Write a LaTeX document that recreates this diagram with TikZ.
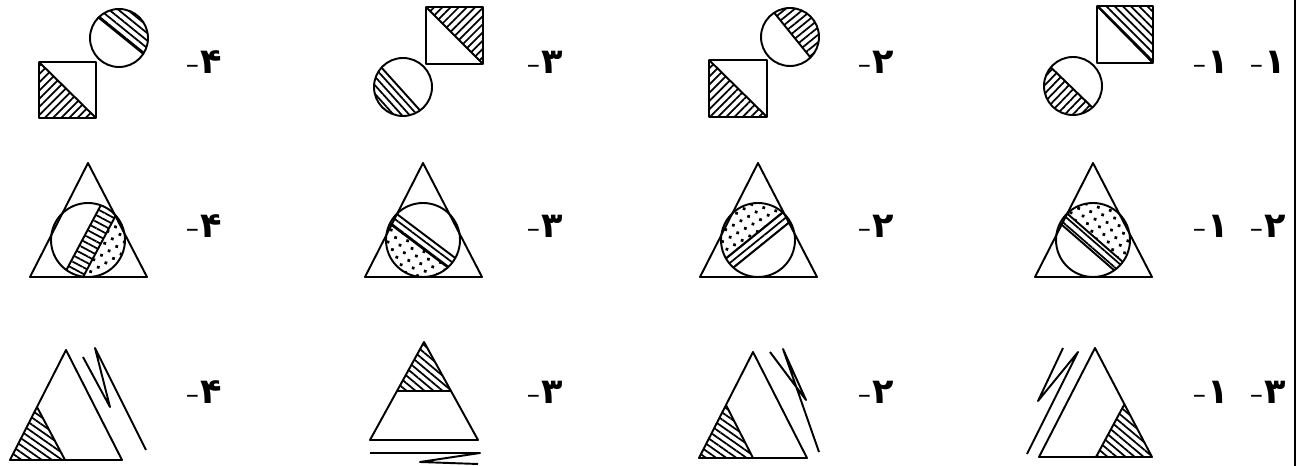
\documentclass[tikz,border=0pt]{standalone}
\usepackage{fontspec}
\newfontfamily\arabicfont[Script=Arabic]{DejaVu Sans}
\newfontfamily\dashfont{DejaVu Sans}
\usetikzlibrary{calc,patterns.meta}
\newcommand{\qnum}[1]{{\dashfont\fontsize{15}{15}\selectfont\textendash}\hspace{1pt}{\arabicfont\bfseries #1}}

\begin{document}
\begin{tikzpicture}[x=0.02cm, y=0.02cm,
  fig/.style={draw, line width=1.1pt, line join=round},
  hatch/.style={pattern={Lines[angle=#1,distance=3.3pt,line width=1pt]}},
  dots/.style={pattern={Dots[radius=1.1pt,distance=5pt,angle=30]}},
  lbl/.style={font=\fontsize{20}{20}\selectfont, inner sep=0pt}]
  \useasboundingbox (0,0) rectangle (1298,466);

  % row 1: square + circle
  \foreach \cx/\cy/\th/\d/\ha [count=\i] in
      {119/428/51/3/-39, 403/379/-138/3/-48, 790/429/39/3/39, 1073/380/-134/2/46}{
    \coordinate (c1-\i) at (\cx,\cy);
    \fill[hatch=\ha] ($(c1-\i)+({\th-acos(\d/29)}:29)$)
      arc[start angle={\th-acos(\d/29)}, end angle={\th+acos(\d/29)}, radius=29] -- cycle;
    \draw[fig] ($(c1-\i)+({\th-acos(\d/29)}:29)$) -- ($(c1-\i)+({\th+acos(\d/29)}:29)$);
    \draw[fig] (c1-\i) circle (29);
  }
  \fill[hatch=45] (39,404) -- (39,348) -- (96,348) -- cycle;
  \draw[fig] (39,348) rectangle (96,404) (39,404) -- (96,348);
  \fill[hatch=45] (426,459) -- (483,459) -- (483,402) -- cycle;
  \draw[fig] (426,402) rectangle (483,459) (426,459) -- (483,402);
  \fill[hatch=45] (709,406) -- (709,349) -- (767,349) -- cycle;
  \draw[fig] (709,349) rectangle (767,406) (709,406) -- (767,349);
  \fill[hatch=-45] (1097,460) -- (1153,460) -- (1153,403) -- cycle;
  \draw[fig] (1097,403) rectangle (1153,460) (1097,460) -- (1153,403);

  % row 2: triangle + circle with band
  \foreach \cx/\th/\da/\db/\ha [count=\i] in
      {88/-28/-5/13/-28, 423/233/-5/7/-37, 758/129/-6/6/39, 1093/49/-9/3/-41}{
    \coordinate (c2-\i) at (\cx,226);
    \begin{scope}
      \clip (c2-\i) circle (37);
      \fill[hatch=\ha] ($(c2-\i)+(\th:\da)+({\th+90}:50)$) -- ($(c2-\i)+(\th:\db)+({\th+90}:50)$)
        -- ($(c2-\i)+(\th:\db)+({\th-90}:50)$) -- ($(c2-\i)+(\th:\da)+({\th-90}:50)$) -- cycle;
      \fill[dots] ($(c2-\i)+(\th:\db)+({\th+90}:50)$) -- ($(c2-\i)+(\th:50)+({\th+90}:50)$)
        -- ($(c2-\i)+(\th:50)+({\th-90}:50)$) -- ($(c2-\i)+(\th:\db)+({\th-90}:50)$) -- cycle;
      \draw[fig] ($(c2-\i)+(\th:\da)+({\th+90}:50)$) -- ($(c2-\i)+(\th:\da)+({\th-90}:50)$);
      \draw[fig] ($(c2-\i)+(\th:\db)+({\th+90}:50)$) -- ($(c2-\i)+(\th:\db)+({\th-90}:50)$);
    \end{scope}
    \draw[fig] (c2-\i) circle (37);
    \draw[fig] (\cx,303) -- ({\cx-58},189) -- ({\cx+59},189) -- cycle;
  }

  % row 3: triangle with cut corner and zigzag
  \fill[hatch=-35] (10,6) -- (65,6) -- (37,59) -- cycle;
  \draw[fig] (66,116) -- (10,6) -- (122,6) -- cycle (37,59) -- (65,6);
  \draw[fig] (83,109) -- (110,59) -- (95,118) -- (146,16);
  \fill[hatch=-40] (424,124) -- (397,75) -- (451,75) -- cycle;
  \draw[fig] (424,124) -- (370,26) -- (478,26) -- cycle (397,75) -- (451,75);
  \draw[fig] (370,13) -- (480,13) -- (420,4) -- (478,2);
  \fill[hatch=-35] (699,8) -- (753,8) -- (726,61) -- cycle;
  \draw[fig] (753,114) -- (699,8) -- (807,8) -- cycle (726,61) -- (753,8);
  \draw[fig] (770,114) -- (806,66) -- (783,117) -- (819,14);
  \fill[hatch=-40] (1152,9) -- (1096,9) -- (1124,61) -- cycle;
  \draw[fig] (1095,118) -- (1039,9) -- (1152,9) -- cycle (1124,61) -- (1096,9);
  \draw[fig] (1063,118) -- (1038,65) -- (1078,114) -- (1027,12);

  % option and question numbers
  \foreach \yy [count=\r] in {404,240,74}{
    \node[lbl] (o4-\r) at (204,\yy) {\qnum{۴}};
    \node[lbl] (o3-\r) at (545,\yy) {\qnum{۳}};
    \node[lbl] (o2-\r) at (876,\yy) {\qnum{۲}};
    \node[lbl] (o1-\r) at (1211,\yy) {\qnum{۱}};
  }
  \node[lbl] (q1) at (1268,404) {\qnum{۱}};
  \node[lbl] (q2) at (1268,240) {\qnum{۲}};
  \node[lbl] (q3) at (1268,74) {\qnum{۳}};

  \draw[line width=1.3pt] (1295,0) -- (1295,466);
\end{tikzpicture}
\end{document}
